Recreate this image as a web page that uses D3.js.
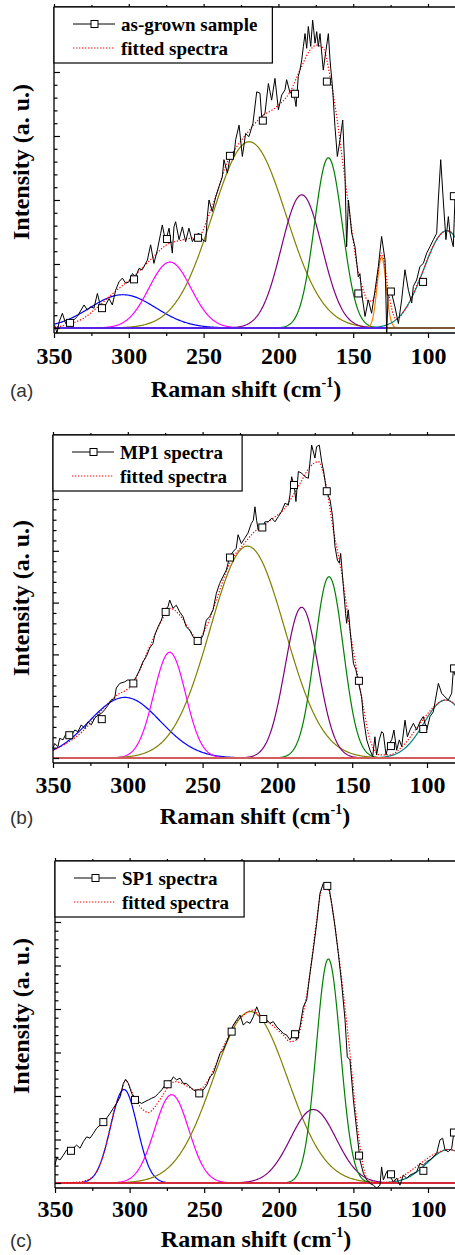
<!DOCTYPE html>
<html>
<head>
<meta charset="utf-8">
<script src="https://cdn.jsdelivr.net/npm/d3@7"></script>
<style>
  body { margin: 0; background: #fff; }
  svg { display: block; }
</style>
</head>
<body>
<svg id="chart" width="455" height="1255"></svg>
<script>
// ---------------- data (Raman shift cm-1, intensity a.u.) ----------------

const xTicksMajor = [350, 300, 250, 200, 150, 100];
const xTicksMinor = [325, 275, 225, 175, 125, 75];
const xTitle = "Raman shift (cm";
const yTitle = "Intensity (a. u.)";
const fitLabel = "fitted spectra";
const sampleLabels = ["as-grown sample", "MP1 spectra", "SP1 spectra"];
const panelTags = ["(a)", "(b)", "(c)"];

// peak keys -> colour, fitted gaussian bands [centre, height, fwhm]
const bandKeysA = ["p1", "p2", "p3", "p4", "p5", "p6", "p7"];
const bandKeysBC = ["p1", "p2", "p3", "p4", "p5", "p7"];

const peaksA = [[304, 0.52, 52], [272.5, 1.03, 33], [219.5, 2.91, 58], [184.4, 2.08, 32],
  [166.6, 2.66, 22], [131, 1.11, 7], [87.5, 1.52, 36]];
const peaksB = [[302, 1.17, 56], [272, 2.04, 25], [220, 4.09, 59], [183.8, 2.91, 26],
  [165.5, 3.50, 22.5], [87.5, 1.12, 34]];
const peaksC = [[303.8, 2.15, 21], [271.8, 2.03, 27], [219, 3.94, 59], [176.9, 1.69, 36],
  [166.8, 5.15, 19], [86, 0.77, 34]];

const spectrumA = [[349.5,0.04],[348,-0.08],[346.5,0.1],[344.4,0.23],[342.2,0.07],[340.0,0.13],[336.6,0.13],[334.4,0.18],
  [329.9,0.36],[327.7,0.28],[325.5,0.33],[323.3,0.31],[321.0,0.54],[318.8,0.33],[315.5,0.36],[313.2,0.46],[311.0,0.36],
  [308.8,0.59],[306.6,0.72],[304.3,0.78],[302.1,0.70],[299.9,0.72],[297.6,0.85],[295.4,0.80],[293.2,0.93],[291.0,0.91],
  [287.6,1.06],[285.4,1.30],[283.2,1.01],[280.9,1.22],[278.7,1.48],[277.6,1.61],[275.4,1.35],[273.1,1.56],[270.9,1.17],
  [269.8,1.58],[268.7,1.66],[266.4,1.38],[264.2,1.58],[262.0,1.35],[259.8,1.56],[257.5,1.35],[255.3,1.45],[253.1,1.48],
  [250.8,1.38],[248.6,1.35],[247.5,1.74],[246.4,2.00],[244.2,1.82],[241.9,2.05],[239.7,2.21],[237.5,2.36],[236.4,2.63],
  [234.1,2.42],[231.9,2.73],[229.7,2.68],[228.6,2.94],[226.3,3.17],[224.1,2.68],[221.9,3.04],[219.7,2.99],[217.0,3.20],
  [214.5,3.69],[212.3,3.67],[211.2,3.30],[209.0,3.35],[206.7,3.82],[204.5,3.56],[202.3,3.90],[200.0,3.41],[197.8,3.64],
  [195.6,3.72],[194.5,3.88],[192.2,3.67],[190.0,3.72],[188.2,3.46],[186.7,3.93],[185.6,4.03],[184.4,4.19],[183.3,4.40],
  [182.2,4.60],[181.1,4.37],[180.0,4.71],[178.4,4.40],[177.1,4.81],[175.5,4.45],[174.4,4.63],[173.3,4.40],[172.2,4.60],
  [170.0,4.03],[168.2,4.34],[166.6,4.60],[165.5,4.19],[163.7,3.72],[162.2,3.15],[160.6,2.68],[158.8,2.94],[157.0,3.25],
  [155.5,2.42],[154.4,1.27],[153.2,2.00],[151.0,1.48],[148.8,1.27],[146.6,0.80],[145.5,0.85],[144.3,0.54],[142.1,0.18],
  [139.9,0.44],[137.7,0.23],[135.4,0.59],[133.2,0.96],[131.0,1.43],[128.7,1.06],[127.6,-0.08],[126.5,0.59],[124.3,0.54],
  [122.1,0.33],[119.8,0.07],[117.6,0.44],[115.4,0.91],[113.1,0.59],[110.9,0.39],[109.8,0.65],[107.6,0.75],[105.4,0.96],
  [103.1,1.01],[100.9,1.17],[98.7,1.27],[96.4,1.38],[94.2,1.48],[93.1,2.00],[91.5,2.63],[89.8,2.00],[88.0,1.38],
  [86.4,1.74],[85.3,1.48],[83.1,1.27],[82.0,2.00],[80.0,1.60]];

const fitA = [[350,0.01],[340,0.06],[330.4,0.15],[319.3,0.36],[308.1,0.59],[297.0,0.80],[285.8,1.06],[274.7,1.30],
  [263.6,1.38],[252.4,1.45],[246.9,1.74],[241.2,2.10],[234.6,2.57],[227.9,2.83],[221.2,3.04],[212.3,3.28],[201.1,3.46],
  [192.2,3.69],[185.6,4.03],[178.9,4.34],[174.4,4.42],[170.0,4.37],[165.5,3.93],[161.0,3.30],[156.6,2.52],[152.1,1.74],
  [147.7,1.01],[143.2,0.59],[140,0.42],[137.5,0.42],[135,0.6],[133,0.95],[131,1.17],[129,1.0],[127,0.65],[125,0.38],
  [123,0.2],[121,0.14],[115,0.3],[105,0.8],[95,1.35],[87.5,1.52],[80,1.40]];

const markersA = [[339.3,0.08],[317.9,0.31],[296.5,0.76],[274.5,1.39],[253.7,1.41],[232.4,2.69],[210.4,3.24],
  [188.9,3.66],[167.6,3.85],[146.6,0.54],[124.8,0.57],[103.3,0.72],[82.7,2.06]];

const spectrumB = [[350.0,0.19],[348.9,0.28],[346.7,0.22],[345.5,0.38],[343.3,0.35],[341.1,0.48],[337.7,0.44],[335.5,0.54],
  [333.3,0.51],[331.1,0.64],[328.8,0.57],[326.6,0.70],[324.4,0.64],[322.1,0.77],[319.9,0.83],[317.7,0.86],[315.5,0.93],
  [313.2,1.02],[311.0,1.12],[308.8,1.15],[307.7,1.35],[305.4,1.44],[302.1,1.47],[299.9,1.51],[296.5,1.47],[294.3,1.57],
  [292.1,1.70],[289.8,1.86],[287.6,1.96],[285.4,2.12],[283.2,2.21],[282.0,2.37],[279.8,2.53],[277.6,2.66],[275.4,2.86],
  [273.1,2.92],[272.0,3.05],[269.8,2.89],[267.6,2.95],[265.3,2.82],[263.1,2.73],[260.9,2.53],[258.6,2.47],[256.4,2.34],
  [254.2,2.28],[252.0,2.25],[249.7,2.37],[247.5,2.66],[245.3,2.73],[243.0,2.86],[240.8,3.18],[238.6,3.37],[236.4,3.50],
  [234.1,3.63],[231.9,3.89],[229.7,3.98],[227.5,4.05],[226.3,4.31],[224.1,4.14],[221.9,4.24],[219.7,4.34],[217.4,4.53],
  [216.1,4.59],[215.0,4.85],[213.9,4.59],[212.8,4.40],[210.5,4.43],[208.3,4.56],[206.1,4.56],[203.8,4.63],[201.6,4.56],
  [199.4,4.66],[197.2,4.76],[194.9,4.92],[192.7,4.88],[191.6,5.08],[190.5,5.43],[188.7,5.24],[187.6,4.95],[186.0,5.53],
  [183.8,5.50],[181.6,5.43],[179.3,5.40],[177.1,6.04],[174.9,5.79],[173.8,6.01],[172.0,6.04],[170.4,5.72],[168.9,5.50],
  [167.1,5.14],[164.8,4.98],[163.1,4.66],[161.5,4.08],[159.9,3.82],[158.6,3.76],[157.7,3.95],[155.9,3.31],[154.4,2.79],
  [153.7,2.60],[152.6,2.86],[151.0,2.34],[149.2,1.83],[147.5,1.70],[145.9,1.47],[143.7,1.18],[142.6,0.80],[140.3,0.35],
  [138.1,0.15],[136.3,0.03],[134.8,0.41],[133.7,0.06],[131.9,0.35],[130.3,0.51],[129.2,0.48],[127.4,0.06],[125.8,0.25],
  [123.6,0.35],[122.1,0.54],[120.3,0.15],[118.5,0.35],[116.9,0.22],[114.7,0.73],[113.1,0.41],[111.4,0.54],[109.1,0.67],
  [106.9,0.54],[104.7,0.70],[102.5,0.80],[100.2,0.54],[98.0,0.80],[95.8,0.89],[92.4,1.44],[90.2,1.25],[88.0,1.18],
  [85.7,1.12],[83.5,1.25],[82.4,1.70],[80.0,1.50]];

const fitB = [[350,0.15],[340,0.30],[330,0.52],[320,0.84],[308.8,1.18],[296.5,1.44],[285.4,2.15],[276.5,2.70],
  [272.0,2.89],[265.3,2.76],[258.6,2.47],[253.1,2.29],[247.5,2.53],[240.8,3.05],[231.9,3.76],[223.0,4.11],[216.3,4.34],
  [204.9,4.59],[196.0,4.79],[184.9,5.30],[178.2,5.62],[172.6,5.72],[168.2,5.37],[162.6,4.40],[157.0,3.57],[151.5,2.47],
  [147.0,1.70],[142.6,0.99],[138.1,0.35],[131.4,0.06],[125,0.06],[115,0.27],[105,0.65],[95,1.0],[87.5,1.12],[80,1.02]];

const markersB = [[339.1,0.44],[317.4,0.75],[296.3,1.44],[274.7,2.82],[253.3,2.26],[231.7,3.87],[210.1,4.45],
  [188.9,5.27],[167.0,5.15],[145.5,1.49],[124.1,0.23],[102.5,0.56],[81.9,1.73]];

const spectrumC = [[350.0,0.41],[348.9,0.57],[346.6,0.53],[344.4,0.64],[342.2,0.76],[339.9,0.72],[337.7,0.80],[335.5,0.87],
  [333.2,0.80],[331.0,0.95],[328.8,1.06],[326.5,1.03],[324.3,1.14],[322.1,1.26],[319.8,1.33],[317.6,1.41],[315.4,1.49],
  [313.1,1.60],[310.9,1.72],[308.7,1.83],[306.4,1.98],[304.2,2.29],[302.6,2.38],[300.8,2.29],[298.6,2.06],[296.4,1.91],
  [294.1,1.87],[291.9,1.83],[289.7,1.87],[287.4,1.91],[285.2,1.95],[283.0,1.98],[280.7,2.06],[278.5,2.14],[276.3,2.25],
  [274.0,2.33],[271.8,2.37],[270.7,2.44],[268.5,2.37],[266.2,2.41],[264.0,2.29],[261.8,2.29],[259.5,2.21],[257.3,2.14],
  [255.0,2.10],[252.8,2.10],[250.6,2.14],[248.3,2.25],[246.1,2.44],[243.9,2.52],[241.6,2.75],[239.4,2.98],[237.2,3.06],
  [234.9,3.25],[232.7,3.44],[230.5,3.63],[228.2,3.75],[226.0,3.86],[223.8,3.63],[221.5,3.71],[219.3,3.67],[217.1,3.82],
  [214.8,4.05],[212.6,3.86],[210.4,3.79],[208.1,3.75],[205.9,3.67],[203.7,3.71],[201.4,3.59],[199.2,3.52],[197.0,3.44],
  [194.7,3.40],[192.5,3.29],[190.3,3.44],[188.0,3.29],[185.8,3.59],[183.6,4.05],[181.3,4.21],[179.1,4.82],[176.9,5.36],
  [174.6,5.97],[172.4,6.66],[170.2,6.89],[166.8,6.89],[164.6,6.43],[162.3,5.89],[160.1,5.28],[157.9,4.59],[155.6,3.75],
  [154.1,2.90],[152.3,2.83],[150.0,1.91],[147.8,1.22],[145.6,0.53],[143.3,0.22],[141.1,0.07],[138.9,-0.01],[136.6,-0.05],
  [134.4,-0.12],[132.2,-0.05],[131.1,0.37],[129.9,0.07],[127.7,0.26],[125.5,0.15],[123.2,0.03],[121.0,0.11],[118.8,-0.05],
  [116.5,0.18],[114.3,0.11],[112.1,0.18],[109.8,0.22],[107.6,0.26],[105.4,0.45],[103.1,0.41],[100.9,0.49],[98.7,0.53],
  [96.4,0.60],[94.2,0.68],[92.0,0.99],[90.2,1.03],[88.6,0.76],[86.4,0.72],[84.1,0.80],[82.6,1.18],[80.0,1.10]];

const fitC = [[350,0.0],[335,0.02],[325,0.13],[318,0.6],[313,1.27],[309.8,1.75],[306.4,1.98],[302.6,2.37],[299.7,2.18],
  [295.3,1.87],[290.8,1.68],[287.4,1.62],[283.0,1.75],[278.5,1.98],[274.0,2.21],[269.6,2.33],[265.1,2.29],[260.6,2.21],
  [256.2,2.14],[251.7,2.18],[247.2,2.37],[242.8,2.67],[238.3,3.06],[233.8,3.36],[229.4,3.67],[224.9,3.82],[220.4,3.94],
  [216.0,3.98],[214.8,3.90],[205.9,3.67],[197.0,3.40],[192.5,3.25],[188.0,3.29],[183.6,3.90],[179.1,4.82],[174.6,6.05],
  [171.3,6.74],[167.9,6.83],[164.6,6.43],[161.2,5.59],[156.7,4.36],[152.3,2.98],[147.8,1.45],[143.3,0.37],[138.9,0.03],
  [134.4,0.0],[125,0.03],[115,0.2],[105,0.45],[95,0.68],[86,0.77],[80,0.72]];

const markersC = [[339.3,0.74],[317.6,1.40],[296.4,1.91],[274.5,2.27],[253.3,2.06],[231.6,3.48],[210.4,3.77],
  [189.1,3.42],[167.5,6.83],[146.2,0.63],[124.8,0.20],[103.1,0.28],[82.6,1.16]];

// ---------------- styles & layout ----------------

const bandColor = { p1: "#0000ff", p2: "#ff00ff", p3: "#808000", p4: "#800080", p5: "#008000", p6: "#ff8000", p7: "#008080" };
const serif = "'Liberation Serif', 'Times New Roman', serif";

// pixel geometry of each panel
const panels = [
  { left: 54, pxPerCm: 1.496, zeroY: 328, unitPx: 64,   topY: 7,   axisY: 333,  titleX: 246, yTitleY: 162,
    tickDy: 31, titleDy: 64,
    spec: spectrumA, fit: fitA, marks: markersA, peaks: peaksA, keys: bandKeysA,
    base: [[350, 127, "#5522e6"], [127, 75, "#7a5636"]] },
  { left: 53, pxPerCm: 1.496, zeroY: 758, unitPx: 51.8, topY: 435, axisY: 763,  titleX: 255, yTitleY: 598,
    tickDy: 30, titleDy: 61,
    spec: spectrumB, fit: fitB, marks: markersB, peaks: peaksB, keys: bandKeysBC,
    base: [[350, 75, "#d25c5c"]] },
  { left: 55, pxPerCm: 1.492, zeroY: 1183, unitPx: 43.5, topY: 861, axisY: 1188, titleX: 256, yTitleY: 1016,
    tickDy: 29, titleDy: 59,
    spec: spectrumC, fit: fitC, marks: markersC, peaks: peaksC, keys: bandKeysBC,
    base: [[350, 75, "#d42a3a"]] }
];

const svg = d3.select("#chart");

panels.forEach((p, i) => {
  const g = svg.append("g");

  const x = d3.scaleLinear()
    .domain([350, 75])
    .range([p.left, p.left + 275 * p.pxPerCm]);
  const y = d3.scaleLinear()
    .domain([(p.zeroY - p.axisY) / p.unitPx, (p.zeroY - p.topY) / p.unitPx])
    .range([p.axisY, p.topY]);

  const line = d3.line().x(d => x(d[0])).y(d => y(d[1]));
  const smooth = d3.line().x(d => x(d[0])).y(d => y(d[1])).curve(d3.curveMonotoneX);

  // gaussian bands
  const grid = d3.range(350, 74.9, -0.5);
  p.peaks.forEach((pk, j) => {
    const [c, h, w] = pk;
    const pts = grid.map(v => [v, h * Math.exp(-4 * Math.LN2 * (v - c) * (v - c) / (w * w))]);
    g.append("path")
      .attr("d", line(pts))
      .attr("fill", "none")
      .attr("stroke", bandColor[p.keys[j]])
      .attr("stroke-width", 1.2);
  });

  // baseline of the fit
  p.base.forEach(b => {
    g.append("line")
      .attr("x1", x(b[0])).attr("x2", x(b[1]))
      .attr("y1", y(0)).attr("y2", y(0))
      .attr("stroke", b[2])
      .attr("stroke-width", 2);
  });

  // fitted spectrum
  g.append("path")
    .attr("d", smooth(p.fit))
    .attr("fill", "none")
    .attr("stroke", "#ff0000")
    .attr("stroke-width", 1.2)
    .attr("stroke-dasharray", "1.3 1.7");

  // measured spectrum
  g.append("path")
    .attr("d", line(p.spec))
    .attr("fill", "none")
    .attr("stroke", "#000")
    .attr("stroke-width", 1)
    .attr("stroke-linejoin", "round");

  g.selectAll(".mark")
    .data(p.marks)
    .enter()
    .append("rect")
    .attr("x", d => x(d[0]) - 3.5)
    .attr("y", d => y(d[1]) - 3.5)
    .attr("width", 7).attr("height", 7)
    .attr("fill", "#fff")
    .attr("stroke", "#000")
    .attr("stroke-width", 1);

  // frame: left, top, bottom (right side runs off the page)
  g.append("line").attr("x1", p.left).attr("x2", p.left).attr("y1", p.topY).attr("y2", p.axisY)
    .attr("stroke", "#000").attr("stroke-width", 1.3);
  g.append("line").attr("x1", p.left).attr("x2", 456).attr("y1", p.topY).attr("y2", p.topY)
    .attr("stroke", "#000").attr("stroke-width", 1.3);
  g.append("line").attr("x1", p.left).attr("x2", 456).attr("y1", p.axisY).attr("y2", p.axisY)
    .attr("stroke", "#000").attr("stroke-width", 1.3);

  // y ticks, inward
  const yTop = (p.zeroY - p.topY) / p.unitPx;
  const yVals = d3.range(0, yTop, 0.2).map(v => Math.round(v * 10) / 10);
  const yMajor = yVals.filter(v => Number.isInteger(v));
  const yMinor = yVals.filter(v => !Number.isInteger(v));
  [[yMajor, 6], [yMinor, 3.5]].forEach(([vals, len]) => {
    const ax = g.append("g")
      .attr("transform", `translate(${p.left},0)`)
      .call(d3.axisRight(y).tickValues(vals).tickSize(len).tickFormat(""));
    ax.select(".domain").remove();
    ax.selectAll("line").attr("stroke-width", 1.2);
  });

  // x ticks: outward at the bottom, small ones on the top edge
  const xb = g.append("g")
    .attr("transform", `translate(0,${p.axisY})`)
    .call(d3.axisBottom(x).tickValues(xTicksMajor).tickSize(5).tickFormat(d3.format("d")));
  xb.select(".domain").remove();
  xb.selectAll("line").attr("stroke-width", 1.2);
  xb.selectAll("text")
    .attr("y", p.tickDy).attr("dy", null)
    .attr("fill", "#000")
    .style("font-family", serif)
    .style("font-weight", "bold")
    .style("font-size", "24px");
  const xm = g.append("g")
    .attr("transform", `translate(0,${p.axisY})`)
    .call(d3.axisBottom(x).tickValues(xTicksMinor).tickSize(3).tickFormat(""));
  xm.select(".domain").remove();
  xm.selectAll("line").attr("stroke-width", 1.2);
  [[xTicksMajor, 3], [xTicksMinor, 2]].forEach(([vals, len]) => {
    const xt = g.append("g")
      .attr("transform", `translate(0,${p.topY})`)
      .call(d3.axisTop(x).tickValues(vals).tickSize(len).tickFormat(""));
    xt.select(".domain").remove();
    xt.selectAll("line").attr("stroke-width", 1.2);
  });

  // axis titles
  const xt = g.append("text")
    .attr("x", p.titleX).attr("y", p.axisY + p.titleDy)
    .attr("text-anchor", "middle")
    .style("font-family", serif).style("font-weight", "bold").style("font-size", "24px");
  xt.append("tspan").text(xTitle);
  xt.append("tspan").attr("dy", -10).style("font-size", "14px").text("-1");
  xt.append("tspan").attr("dy", 10).text(")");

  g.append("text")
    .attr("transform", `translate(29,${p.yTitleY}) rotate(-90)`)
    .attr("text-anchor", "middle")
    .style("font-family", serif).style("font-weight", "bold").style("font-size", "24px")
    .text(yTitle);

  g.append("text")
    .attr("x", 10).attr("y", p.axisY + p.titleDy)
    .style("font-family", "'Liberation Sans', Arial, sans-serif")
    .style("font-size", "19px")
    .attr("fill", "#333")
    .text(panelTags[i]);

  // legend
  const lg = g.append("g");
  const box = lg.append("rect")
    .attr("x", p.left).attr("y", p.topY)
    .attr("height", 56)
    .attr("fill", "#fff").attr("stroke", "#000").attr("stroke-width", 1.2);
  const rows = [sampleLabels[i], fitLabel];
  let maxW = 0;
  rows.forEach((label, r) => {
    const ly = p.topY + 17 + r * 24;
    const ln = lg.append("line")
      .attr("x1", p.left + 19).attr("x2", p.left + 61)
      .attr("y1", ly).attr("y2", ly);
    if (r === 0) {
      ln.attr("stroke", "#000").attr("stroke-width", 1);
      lg.append("rect")
        .attr("x", p.left + 37).attr("y", ly - 3.5)
        .attr("width", 7).attr("height", 7)
        .attr("fill", "#fff").attr("stroke", "#000");
    } else {
      ln.attr("stroke", "#ff0000").attr("stroke-width", 1.2).attr("stroke-dasharray", "1.3 1.7");
    }
    const t = lg.append("text")
      .attr("x", p.left + 67).attr("y", ly + 7)
      .style("font-family", serif).style("font-weight", "bold").style("font-size", "19px")
      .text(label);
    maxW = Math.max(maxW, t.node().getComputedTextLength());
  });
  box.attr("width", 67 + maxW + 15);
});
</script>
</body>
</html>
